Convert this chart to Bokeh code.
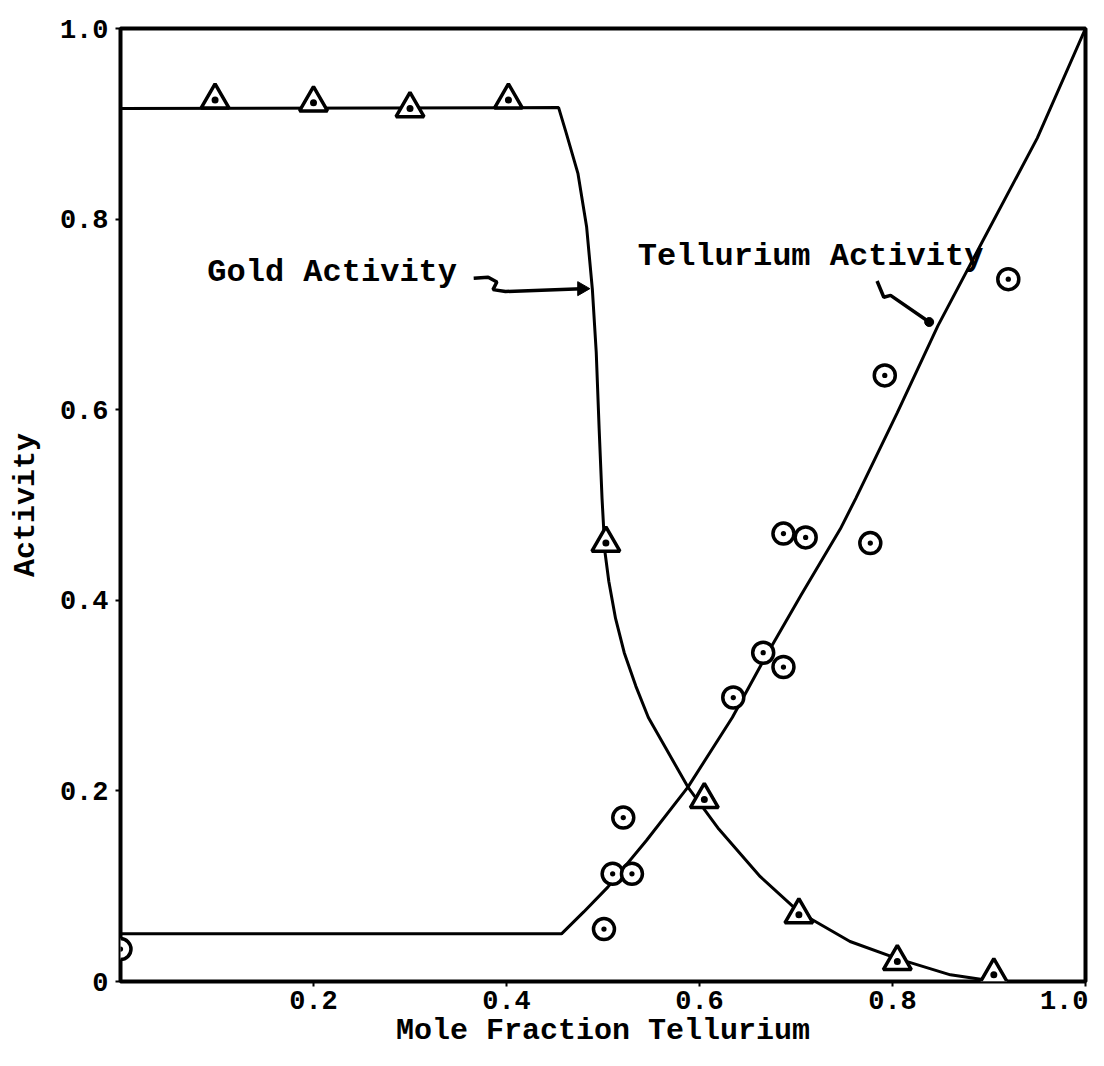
from bokeh.plotting import figure
from bokeh.models import FixedTicker, CustomJSTickFormatter, Label
from bokeh.embed import file_html
from bokeh.resources import INLINE

# ---- data ----
gold_x = [0.098, 0.200, 0.300, 0.402, 0.503, 0.605, 0.703, 0.805, 0.905]
gold_y = [0.925, 0.922, 0.916, 0.925, 0.460, 0.191, 0.070, 0.021, 0.007]

te_x = [0.000, 0.501, 0.510, 0.521, 0.530, 0.635, 0.666, 0.687, 0.687, 0.710, 0.777, 0.792, 0.920]
te_y = [0.034, 0.055, 0.113, 0.172, 0.113, 0.298, 0.345, 0.330, 0.470, 0.466, 0.460, 0.636, 0.737]

gold_curve_x = [0.0, 0.454, 0.462, 0.474, 0.483, 0.489, 0.493, 0.496, 0.499, 0.502, 0.506,
                0.513, 0.522, 0.534, 0.547, 0.565, 0.588, 0.620, 0.663, 0.703, 0.756, 0.805,
                0.860, 0.907]
gold_curve_y = [0.916, 0.917, 0.890, 0.848, 0.792, 0.726, 0.660, 0.580, 0.507, 0.451, 0.420,
                0.381, 0.345, 0.310, 0.277, 0.245, 0.204, 0.160, 0.110, 0.073, 0.042, 0.024,
                0.007, 0.0]

te_curve_x = [0.0, 0.457, 0.480, 0.505, 0.545, 0.588, 0.634, 0.668, 0.705, 0.746, 0.762,
              0.805, 0.847, 0.894, 0.950, 1.0]
te_curve_y = [0.050, 0.050, 0.073, 0.099, 0.148, 0.204, 0.277, 0.340, 0.405, 0.475, 0.507,
              0.597, 0.688, 0.778, 0.885, 1.0]

x_ticks = [0.2, 0.4, 0.6, 0.8, 1.0]
y_ticks = [0.0, 0.2, 0.4, 0.6, 0.8, 1.0]

gold_label = "Gold Activity"
te_label = "Tellurium Activity"
x_title = "Mole Fraction Tellurium"
y_title = "Activity"

# annotation arrow paths (data coordinates)
gold_arrow_x = [0.366, 0.381, 0.390, 0.386, 0.399, 0.478]
gold_arrow_y = [0.738, 0.739, 0.734, 0.726, 0.724, 0.727]
te_arrow_x = [0.784, 0.791, 0.798, 0.838]
te_arrow_y = [0.735, 0.718, 0.720, 0.692]

FONT = "Liberation Mono"

p = figure(width=1088, height=1050, x_range=(0, 1), y_range=(0, 1),
           output_backend="svg", toolbar_location=None,
           min_border_left=120, min_border_right=3, min_border_top=28, min_border_bottom=62)
p.background_fill_color = "white"
p.border_fill_color = "white"
p.outline_line_color = "black"
p.outline_line_width = 4
p.grid.visible = False

fmt = CustomJSTickFormatter(code="return tick == 0 ? '0' : tick.toFixed(1);")
for ax, ticks in ((p.xaxis[0], x_ticks), (p.yaxis[0], y_ticks)):
    ax.ticker = FixedTicker(ticks=ticks)
    ax.formatter = fmt
    ax.axis_line_color = None
    ax.major_tick_line_color = "black"
    ax.major_tick_line_width = 2
    ax.major_tick_out = 5
    ax.major_tick_in = 0
    ax.minor_tick_line_color = None
    ax.major_label_text_font = FONT
    ax.major_label_text_font_size = "27px"
    ax.major_label_text_font_style = "bold"
    ax.major_label_text_color = "black"
    ax.axis_label_text_font = FONT
    ax.axis_label_text_font_size = "30px"
    ax.axis_label_text_font_style = "bold"
    ax.axis_label_text_color = "black"
    ax.major_label_text_line_height = 1.0
    ax.axis_label_text_line_height = 1.0

p.xaxis.axis_label = x_title
p.yaxis.axis_label = y_title
p.xaxis.major_label_standoff = 4
p.xaxis.axis_label_standoff = 2
p.yaxis.major_label_standoff = 7
p.yaxis.axis_label_standoff = 14
p.yaxis.major_label_orientation = "horizontal"

# curves
p.line(gold_curve_x, gold_curve_y, line_color="black", line_width=3)
p.line(te_curve_x, te_curve_y, line_color="black", line_width=3)

# data points
p.scatter(gold_x, gold_y, marker="triangle_dot", size=28, line_color="black",
          line_width=3.5, fill_color="white")
p.scatter(te_x, te_y, marker="circle_dot", size=21, line_color="black",
          line_width=3.5, fill_color="white")

# annotations
p.line(gold_arrow_x, gold_arrow_y, line_color="black", line_width=3.5)
p.scatter([gold_arrow_x[-1]], [gold_arrow_y[-1]], marker="triangle", angle=-1.571,
          size=14, fill_color="black", line_color="black")
p.line(te_arrow_x, te_arrow_y, line_color="black", line_width=3.5)
p.scatter([te_arrow_x[-1]], [te_arrow_y[-1]], marker="circle", size=9,
          fill_color="black", line_color="black")

p.add_layout(Label(x=0.090, y=0.744, text=gold_label, text_font=FONT, text_font_style="bold",
                   text_font_size="32px", text_baseline="middle", text_color="black"))
p.add_layout(Label(x=0.536, y=0.761, text=te_label, text_font=FONT, text_font_style="bold",
                   text_font_size="32px", text_baseline="middle", text_color="black"))

open("out.html", "w").write(file_html(p, INLINE))
